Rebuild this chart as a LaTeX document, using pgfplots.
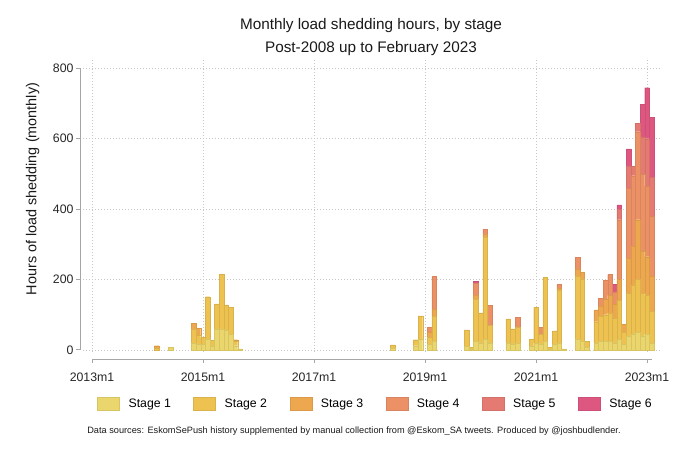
\documentclass[border=0pt]{standalone}
\usepackage{fontspec}
\setmainfont{Liberation Sans}
\usepackage{pgfplots}
\usepackage{pgfplotstable}
\pgfplotsset{compat=1.18}
\definecolor{sA}{HTML}{EAD66C}
\definecolor{sB}{HTML}{EDC251}
\definecolor{sC}{HTML}{EDA74E}
\definecolor{sD}{HTML}{EB9165}
\definecolor{sE}{HTML}{E57A72}
\definecolor{sF}{HTML}{DE5781}
\definecolor{axgray}{HTML}{A6A6A6}
\pgfplotstableread{
m s1 s2 s3 s4 s5 s6
14 0 5 7 0 0 0
17 7 0 0 0 0 0
22 20 40 15 0 0 0
23 15 26 20 0 0 0
24 15 20 0 0 0 0
25 30 121 0 0 0 0
26 10 17 0 0 0 0
27 60 71 0 0 0 0
28 60 154 0 0 0 0
29 55 73 0 0 0 0
30 45 76 0 0 0 0
31 12 12 5 0 0 0
32 3 0 0 0 0 0
65 6 8 0 0 0 0
70 12 17 0 0 0 0
71 30 67 0 0 0 0
73 15 20 15 15 0 0
74 25 70 20 94 0 0
81 10 47 0 0 0 0
82 3 4 0 0 0 0
83 25 120 10 34 0 6
84 20 85 0 0 0 0
85 30 290 10 13 0 0
86 20 50 0 56 0 0
90 20 68 0 0 0 0
91 15 45 0 0 0 0
92 20 45 0 27 0 0
95 10 20 0 0 0 0
96 20 101 0 0 0 0
97 15 30 0 20 0 0
98 25 182 0 0 0 0
99 3 5 0 0 0 0
100 15 39 0 0 0 0
101 20 150 6 10 0 0
102 3 0 0 0 0 0
105 30 180 20 33 0 0
106 25 175 20 0 0 0
107 8 17 0 0 0 0
109 20 60 34 0 0 0
110 25 70 30 22 0 0
111 25 75 45 52 0 0
112 25 80 50 59 0 0
113 20 70 40 35 0 21
114 30 110 60 170 29 13
115 15 35 23 0 0 0
116 40 120 100 200 63 48
117 45 140 110 200 26 0
118 50 150 170 250 23 0
119 40 120 120 220 105 93
120 45 110 110 200 135 145
121 20 90 100 170 110 170
}\loadshed
\begin{document}
\begin{tikzpicture}[x=1pt,y=1pt]
\path[use as bounding box] (0,0) rectangle (680,453);
\begin{axis}[
  at={(83pt,101pt)}, anchor=south west,
  scale only axis, width=579pt, height=294pt,
  xmin=-1.946, xmax=123.24, ymin=-6, ymax=829.4,
  ybar stacked, bar width=1,
  clip=false,
  axis line style={draw=none},
  tick style={draw=none},
  xtick={0,24,48,72,96,120},
  xticklabels={2013m1,2015m1,2017m1,2019m1,2021m1,2023m1},
  ytick={0,200,400,600,800},
  grid=major,
  major grid style={dash pattern=on 0.8pt off 2.2pt, line width=0.6pt, color=black!22},
  /pgf/number format/assume math mode=true,
  tick label style={font=\fontsize{12.3}{14}\selectfont, text=black!85},
  xticklabel style={yshift=-17pt},
  yticklabel style={xshift=-6pt},
  legend columns=6,
  legend image code/.code={\fill[#1] (0pt,-6.5pt) rectangle (22pt,6.5pt);},
  legend style={at={(292.5pt,-52pt)}, anchor=center, draw=none, fill=none,
    font=\fontsize{12.3}{14}\selectfont,
    /tikz/every even column/.append style={column sep=20.5pt},
    /tikz/every odd column/.append style={column sep=7pt}},
  every axis plot/.append style={line width=0.25pt},
]
\addplot[fill=sA, draw=sA!92!black] table[x=m,y=s1]{\loadshed};
\addlegendentry{Stage 1}
\addplot[fill=sB, draw=sB!92!black] table[x=m,y=s2]{\loadshed};
\addlegendentry{Stage 2}
\addplot[fill=sC, draw=sC!92!black] table[x=m,y=s3]{\loadshed};
\addlegendentry{Stage 3}
\addplot[fill=sD, draw=sD!92!black] table[x=m,y=s4]{\loadshed};
\addlegendentry{Stage 4}
\addplot[fill=sE, draw=sE!92!black] table[x=m,y=s5]{\loadshed};
\addlegendentry{Stage 5}
\addplot[fill=sF, draw=sF!92!black] table[x=m,y=s6]{\loadshed};
\addlegendentry{Stage 6}
\draw[axgray, line width=0.8pt] (axis cs:0,-26.9) -- (axis cs:121,-26.9);
\draw[axgray, line width=0.8pt] (axis cs:0,-26.9) -- (axis cs:0,-38.3);
\draw[axgray, line width=0.8pt] (axis cs:24,-26.9) -- (axis cs:24,-38.3);
\draw[axgray, line width=0.8pt] (axis cs:48,-26.9) -- (axis cs:48,-38.3);
\draw[axgray, line width=0.8pt] (axis cs:72,-26.9) -- (axis cs:72,-38.3);
\draw[axgray, line width=0.8pt] (axis cs:96,-26.9) -- (axis cs:96,-38.3);
\draw[axgray, line width=0.8pt] (axis cs:120,-26.9) -- (axis cs:120,-38.3);
\draw[axgray, line width=0.8pt] (axis cs:-2.53,0) -- (axis cs:-2.53,800);
\draw[axgray, line width=0.8pt] (axis cs:-2.53,0) -- (axis cs:-3.39,0);
\draw[axgray, line width=0.8pt] (axis cs:-2.53,200) -- (axis cs:-3.39,200);
\draw[axgray, line width=0.8pt] (axis cs:-2.53,400) -- (axis cs:-3.39,400);
\draw[axgray, line width=0.8pt] (axis cs:-2.53,600) -- (axis cs:-3.39,600);
\draw[axgray, line width=0.8pt] (axis cs:-2.53,800) -- (axis cs:-3.39,800);
\end{axis}
\node[align=center, font=\fontsize{15.3}{23}\selectfont, text=black!90] at (371,416)
  {Monthly load shedding hours, by stage\\Post-2008 up to February 2023};
\node[rotate=90, font=\fontsize{14.4}{16}\selectfont, text=black!90] at (32.7,264)
  {Hours of load shedding (monthly)};
\node[font=\fontsize{9.2}{11}\selectfont, text=black!90] at (354,22)
  {Data sources: EskomSePush history supplemented by manual collection from @Eskom\_SA tweets. Produced by @joshbudlender.};
\end{tikzpicture}
\end{document}
